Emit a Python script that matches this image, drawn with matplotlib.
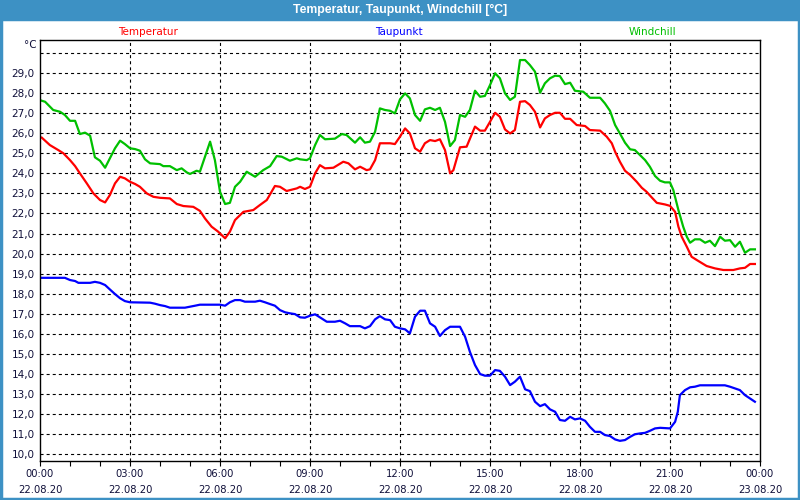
import matplotlib
matplotlib.use("Agg")
import matplotlib.pyplot as plt
from matplotlib.patches import Rectangle
from matplotlib.ticker import MultipleLocator, FixedLocator

plt.rcParams['lines.scale_dashes'] = False

# ---- data (hours since 22.08.20 00:00) ----
t_temp = [0.06, 0.33, 0.61, 0.78, 1.0, 1.17, 1.33, 1.56, 1.78, 2.0, 2.17, 2.33, 2.5, 2.67, 2.83, 3.0,
          3.17, 3.33, 3.56, 3.78, 4.0, 4.33, 4.56, 4.78, 5.11, 5.33, 5.5, 5.72, 5.94, 6.17, 6.33, 6.5,
          6.78, 7.11, 7.33, 7.56, 7.83, 8.0, 8.22, 8.56, 8.67, 8.83, 9.0, 9.17, 9.33, 9.5, 9.78, 10.11,
          10.28, 10.5, 10.67, 10.89, 11.0, 11.17, 11.33, 11.67, 11.83, 12.0, 12.17, 12.33, 12.5, 12.67,
          12.83, 13.0, 13.17, 13.33, 13.5, 13.67, 13.78, 14.0, 14.22, 14.5, 14.67, 14.83, 15.0, 15.17,
          15.33, 15.5, 15.67, 15.83, 16.0, 16.17, 16.33, 16.5, 16.67, 16.83, 17.0, 17.17, 17.33, 17.5,
          17.67, 17.89, 18.17, 18.33, 18.67, 18.89, 19.06, 19.17, 19.33, 19.5, 19.67, 19.89, 20.06,
          20.22, 20.39, 20.56, 20.83, 21.0, 21.17, 21.28, 21.39, 21.56, 21.72, 21.89, 22.22, 22.5,
          22.78, 23.11, 23.33, 23.5, 23.67, 23.83]
temperatur = [25.78, 25.41, 25.16, 25.0, 24.66, 24.36, 24.0, 23.5, 23.0, 22.67, 22.55, 22.92, 23.5, 23.83,
              23.75, 23.58, 23.47, 23.33, 23.0, 22.83, 22.78, 22.75, 22.47, 22.37, 22.33, 22.13, 21.75,
              21.34, 21.09, 20.76, 21.09, 21.67, 22.08, 22.17, 22.42, 22.67, 23.37, 23.33, 23.12, 23.25,
              23.33, 23.22, 23.33, 24.0, 24.41, 24.25, 24.28, 24.58, 24.5, 24.2, 24.33, 24.16, 24.2,
              24.66, 25.5, 25.5, 25.46, 25.83, 26.24, 25.99, 25.25, 25.08, 25.5, 25.66, 25.61, 25.7,
              25.16, 24.0, 24.16, 25.3, 25.33, 26.33, 26.13, 26.13, 26.57, 27.02, 26.82, 26.19, 25.99,
              26.16, 27.57, 27.6, 27.41, 27.07, 26.29, 26.74, 26.91, 27.02, 27.02, 26.72, 26.72, 26.41,
              26.36, 26.16, 26.13, 25.83, 25.5, 25.08, 24.58, 24.13, 23.92, 23.58, 23.28, 23.08, 22.80,
              22.53, 22.45, 22.38, 22.08, 21.34, 20.84, 20.34, 19.84, 19.68, 19.38, 19.26, 19.18, 19.18,
              19.26, 19.29, 19.48, 19.48]

t_wind = [0.06, 0.17, 0.44, 0.67, 0.83, 1.0, 1.17, 1.33, 1.5, 1.67, 1.83, 2.0, 2.17, 2.33, 2.5, 2.67,
          2.83, 3.0, 3.17, 3.33, 3.5, 3.67, 4.0, 4.11, 4.33, 4.56, 4.72, 4.89, 5.0, 5.22, 5.33, 5.5,
          5.67, 5.83, 6.0, 6.17, 6.33, 6.5, 6.67, 6.89, 7.17, 7.44, 7.67, 7.89, 8.06, 8.33, 8.56, 8.67,
          8.89, 9.0, 9.17, 9.33, 9.5, 9.83, 10.06, 10.22, 10.5, 10.67, 10.83, 11.0, 11.17, 11.33, 11.5,
          11.67, 11.83, 12.0, 12.17, 12.33, 12.5, 12.67, 12.83, 13.0, 13.17, 13.33, 13.5, 13.67, 13.83,
          14.0, 14.17, 14.33, 14.5, 14.67, 14.83, 15.0, 15.17, 15.33, 15.5, 15.67, 15.83, 16.0, 16.17,
          16.33, 16.5, 16.67, 16.83, 17.0, 17.17, 17.33, 17.5, 17.67, 17.83, 18.11, 18.33, 18.67,
          18.83, 19.0, 19.17, 19.33, 19.5, 19.67, 19.83, 20.0, 20.17, 20.33, 20.5, 20.67, 20.83, 21.0,
          21.11, 21.28, 21.44, 21.56, 21.67, 21.83, 22.0, 22.17, 22.33, 22.5, 22.67, 22.83, 23.0,
          23.17, 23.33, 23.5, 23.67, 23.83]
windchill = [27.62, 27.57, 27.16, 27.07, 26.91, 26.62, 26.62, 25.96, 26.03, 25.88, 24.80, 24.63, 24.28,
             24.75, 25.25, 25.63, 25.46, 25.25, 25.21, 25.13, 24.70, 24.50, 24.46, 24.36, 24.36, 24.16,
             24.25, 24.05, 23.97, 24.13, 24.08, 24.83, 25.58, 24.66, 23.08, 22.47, 22.53, 23.33, 23.58,
             24.08, 23.83, 24.16, 24.36, 24.86, 24.83, 24.63, 24.75, 24.70, 24.66, 24.75, 25.41, 25.91,
             25.70, 25.73, 25.96, 25.91, 25.53, 25.80, 25.53, 25.58, 26.08, 27.24, 27.16, 27.12, 26.99,
             27.69, 27.99, 27.74, 26.91, 26.62, 27.19, 27.27, 27.16, 27.27, 26.57, 25.36, 25.66, 26.91,
             26.82, 27.16, 28.12, 27.82, 27.86, 28.40, 28.99, 28.74, 27.99, 27.66, 27.82, 29.65, 29.65,
             29.40, 29.07, 28.02, 28.49, 28.74, 28.87, 28.85, 28.45, 28.52, 28.12, 28.07, 27.77, 27.77,
             27.49, 27.12, 26.41, 25.99, 25.53, 25.20, 25.16, 24.91, 24.66, 24.33, 23.87, 23.63, 23.55,
             23.55, 23.17, 22.17, 21.34, 20.84, 20.54, 20.71, 20.71, 20.54, 20.64, 20.37, 20.84, 20.64,
             20.67, 20.34, 20.59, 20.04, 20.21, 20.21]

t_tau = [0.06, 0.83, 1.0, 1.17, 1.28, 1.67, 1.83, 2.0, 2.17, 2.33, 2.5, 2.67, 2.83, 3.0, 3.67, 3.83,
         4.0, 4.17, 4.33, 4.83, 5.0, 5.17, 5.33, 6.0, 6.17, 6.33, 6.5, 6.67, 6.83, 7.17, 7.33, 7.5,
         7.67, 7.83, 8.0, 8.17, 8.33, 8.5, 8.67, 8.83, 9.0, 9.17, 9.33, 9.56, 9.83, 10.0, 10.17, 10.33,
         10.67, 10.83, 11.0, 11.17, 11.33, 11.5, 11.67, 11.83, 12.0, 12.17, 12.33, 12.5, 12.67, 12.83,
         13.0, 13.17, 13.33, 13.5, 13.67, 14.0, 14.17, 14.33, 14.5, 14.67, 14.83, 15.0, 15.17, 15.33,
         15.5, 15.67, 15.83, 16.0, 16.17, 16.33, 16.5, 16.67, 16.83, 17.0, 17.17, 17.33, 17.5, 17.67,
         17.83, 18.0, 18.17, 18.33, 18.5, 18.67, 18.83, 19.0, 19.17, 19.33, 19.5, 19.67, 19.83, 20.0,
         20.17, 20.33, 20.5, 20.67, 21.0, 21.17, 21.26, 21.33, 21.5, 21.67, 21.83, 22.0, 22.83, 23.0,
         23.33, 23.5, 23.83]
taupunkt = [18.79, 18.79, 18.68, 18.63, 18.54, 18.54, 18.59, 18.54, 18.43, 18.21, 17.98, 17.77, 17.63,
            17.57, 17.55, 17.50, 17.43, 17.38, 17.30, 17.30, 17.35, 17.40, 17.45, 17.45, 17.40, 17.57,
            17.68, 17.68, 17.60, 17.60, 17.65, 17.57, 17.48, 17.40, 17.18, 17.07, 17.02, 16.98, 16.82,
            16.80, 16.90, 16.97, 16.82, 16.60, 16.60, 16.65, 16.52, 16.38, 16.38, 16.27, 16.38, 16.72,
            16.88, 16.72, 16.68, 16.35, 16.27, 16.22, 16.02, 16.85, 17.15, 17.15, 16.52, 16.35, 15.89,
            16.18, 16.35, 16.35, 15.85, 15.10, 14.44, 13.99, 13.91, 13.91, 14.19, 14.15, 13.86, 13.44,
            13.61, 13.86, 13.23, 13.14, 12.61, 12.39, 12.49, 12.23, 12.11, 11.70, 11.66, 11.86, 11.73,
            11.78, 11.66, 11.36, 11.11, 11.11, 10.95, 10.90, 10.73, 10.66, 10.70, 10.86, 10.99, 11.03,
            11.06, 11.16, 11.28, 11.31, 11.28, 11.61, 12.11, 12.94, 13.19, 13.33, 13.36, 13.43, 13.43,
            13.36, 13.19, 12.94, 12.61]

tick_hours = [0, 3, 6, 9, 12, 15, 18, 21, 24]
tick_times = ["00:00", "03:00", "06:00", "09:00", "12:00", "15:00", "18:00", "21:00", "00:00"]
tick_dates = ["22.08.20"] * 8 + ["23.08.20"]
y_ticks = list(range(10, 30))

series_names = ["Temperatur", "Taupunkt", "Windchill"]
RED, BLUE, GREEN = "#ff0000", "#0000ff", "#00c000"
FRAME_BLUE = "#3d91c4"
TXT = "#10103a"

fig = plt.figure(figsize=(8, 5), dpi=100, facecolor="white")
ax = fig.add_axes([0.05, 0.0786, 0.90, 0.8414])
ax.set_facecolor("white")

ax.plot(t_temp, temperatur, color=RED, lw=1.6, solid_joinstyle="round")
ax.plot(t_wind, windchill, color=GREEN, lw=1.6, solid_joinstyle="round")
ax.plot(t_tau, taupunkt, color=BLUE, lw=1.6, solid_joinstyle="round")

ax.set_xlim(0, 24)
ax.set_ylim(9.67, 30.65)

# x ticks
ax.xaxis.set_major_locator(FixedLocator(tick_hours))
ax.set_xticklabels([f"{a}\n{b}" for a, b in zip(tick_times, tick_dates)],
                   fontsize=7.2, color=TXT, linespacing=1.8)
ax.xaxis.set_minor_locator(MultipleLocator(1))
ax.tick_params(axis="x", which="both", direction="out", length=3.5, width=0.8, pad=2.5, color="black")

# y ticks
ax.yaxis.set_major_locator(FixedLocator(y_ticks))
ax.set_yticklabels([f"{v:.1f}".replace(".", ",") for v in y_ticks], fontsize=7.5, color=TXT)
ax.tick_params(axis="y", which="both", length=0, pad=4)

# grid
for h in tick_hours[1:-1]:
    ax.axvline(h, color="black", lw=0.8, dashes=(2.2, 2.2), zorder=0.5)
for v in range(10, 31):
    ax.axhline(v, color="black", lw=0.8, dashes=(2.2, 2.2), zorder=0.5)

for s in ax.spines.values():
    s.set_linewidth(1.0)
    s.set_color("black")

# title bar and frame
fig.patches.append(Rectangle((0, 1 - 20 / 500), 1, 20 / 500, transform=fig.transFigure,
                             facecolor=FRAME_BLUE, edgecolor="none", zorder=0))
fig.patches.append(Rectangle((0.0015, 0.003), 0.997, 0.96, transform=fig.transFigure,
                             facecolor="none", edgecolor=FRAME_BLUE, lw=2.5, zorder=0))
fig.text(0.5, 1 - 10 / 500, "Temperatur, Taupunkt, Windchill [°C]", ha="center", va="center",
         color="white", fontsize=8.8, fontweight="bold", family="Liberation Sans")

# series labels
for name, col, xc in zip(series_names, [RED, BLUE, GREEN], [148, 399, 652]):
    fig.text(xc / 800, 1 - 32 / 500, name, ha="center", va="center", color=col,
             fontsize=7.5, family="DejaVu Sans")

fig.text(37 / 800, 1 - 45 / 500, "°C", ha="right", va="center", color=TXT, fontsize=7.5)

fig.savefig("out.png", dpi=100, facecolor="white")
